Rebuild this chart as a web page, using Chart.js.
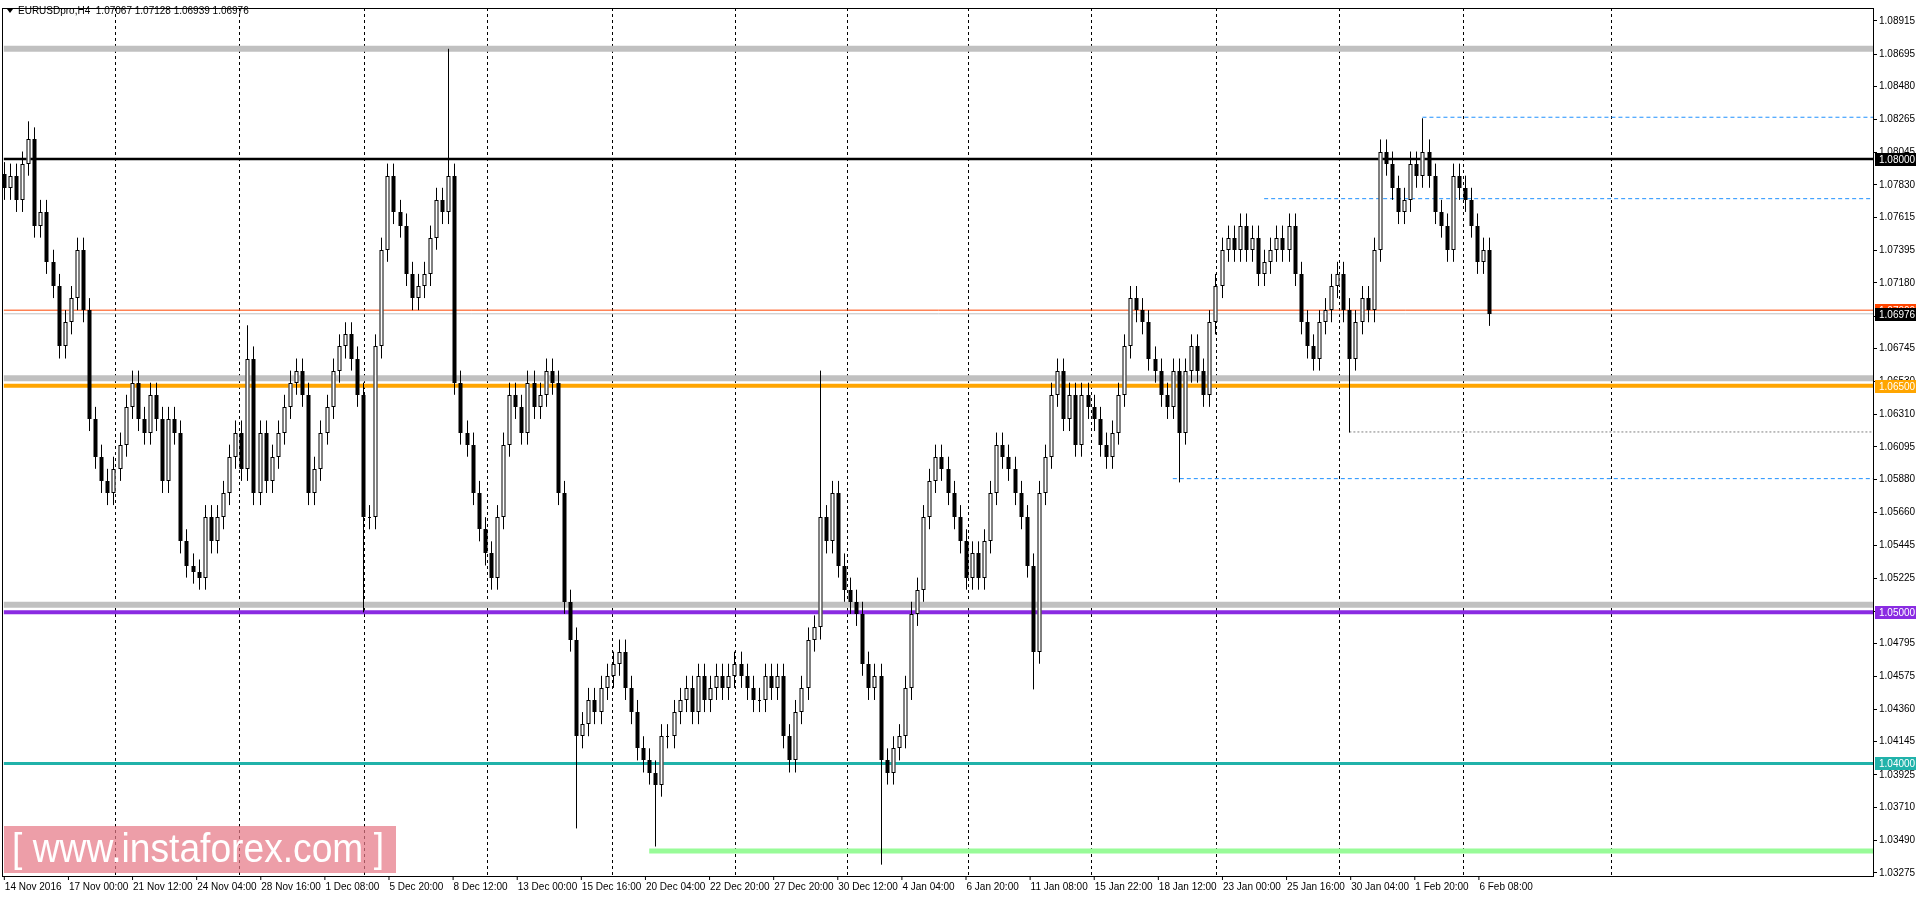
<!DOCTYPE html>
<html><head><meta charset="utf-8">
<script src="https://cdn.jsdelivr.net/npm/chart.js@4.4.1/dist/chart.umd.min.js"></script>
<style>html,body{margin:0;padding:0;background:#fff;overflow:hidden}#w{width:1916px;height:897px;position:relative}</style>
</head><body><div id="w"><canvas id="c" width="1916" height="897"></canvas></div>
<script>
const closes=[1.0781,1.0789,1.0773,1.0797,1.0813,1.0756,1.0765,1.0732,1.0716,1.0676,1.0692,1.0708,1.0740,1.0700,1.0628,1.0603,1.0587,1.0579,1.0595,1.0611,1.0636,1.0652,1.0628,1.0619,1.0644,1.0628,1.0587,1.0628,1.0619,1.0547,1.0531,1.0527,1.0523,1.0563,1.0547,1.0563,1.0579,1.0603,1.0619,1.0595,1.0668,1.0579,1.0619,1.0587,1.0603,1.0619,1.0636,1.0652,1.0660,1.0644,1.0579,1.0595,1.0619,1.0636,1.0660,1.0676,1.0684,1.0668,1.0644,1.0563,1.0563,1.0676,1.0740,1.0789,1.0765,1.0756,1.0724,1.0708,1.0716,1.0724,1.0748,1.0773,1.0765,1.0789,1.0652,1.0619,1.0611,1.0579,1.0555,1.0539,1.0523,1.0563,1.0611,1.0644,1.0636,1.0619,1.0652,1.0636,1.0644,1.0660,1.0652,1.0579,1.0507,1.0482,1.0418,1.0426,1.0442,1.0434,1.0450,1.0458,1.0466,1.0474,1.0450,1.0434,1.0410,1.0402,1.0394,1.0386,1.0418,1.0418,1.0434,1.0442,1.0450,1.0434,1.0458,1.0442,1.0450,1.0458,1.0450,1.0458,1.0466,1.0458,1.0450,1.0442,1.0442,1.0458,1.0450,1.0458,1.0418,1.0402,1.0434,1.0450,1.0482,1.0490,1.0563,1.0547,1.0579,1.0531,1.0515,1.0507,1.0499,1.0466,1.0450,1.0458,1.0402,1.0394,1.0410,1.0418,1.0450,1.0499,1.0515,1.0563,1.0587,1.0603,1.0595,1.0579,1.0563,1.0547,1.0523,1.0539,1.0523,1.0547,1.0579,1.0611,1.0603,1.0595,1.0579,1.0563,1.0531,1.0474,1.0579,1.0603,1.0644,1.0660,1.0628,1.0644,1.0611,1.0644,1.0636,1.0628,1.0611,1.0603,1.0619,1.0644,1.0676,1.0708,1.0700,1.0692,1.0668,1.0660,1.0644,1.0636,1.0660,1.0619,1.0660,1.0676,1.0660,1.0644,1.0692,1.0716,1.0740,1.0748,1.0740,1.0756,1.0740,1.0748,1.0724,1.0732,1.0740,1.0748,1.0740,1.0756,1.0724,1.0692,1.0676,1.0668,1.0692,1.0700,1.0716,1.0724,1.0700,1.0668,1.0692,1.0708,1.0700,1.0740,1.0805,1.0797,1.0781,1.0765,1.0773,1.0797,1.0789,1.0805,1.0789,1.0765,1.0756,1.0740,1.0789,1.0781,1.0773,1.0756,1.0732,1.0740,1.06976];
const firstOpen=1.0790;
const wick=0.0008;
const spikes=[[4,1.0825,null],[40,1.0690,null],[59,null,1.0500],[73,1.0873,null],[94,null,1.0357],[107,null,1.0345],[134,1.0660,null],[144,null,1.0333],[169,null,1.0449],[193,null,1.0586],[221,null,1.0619],[233,1.0827,null]];
const xLabels=["14 Nov 2016","17 Nov 00:00","21 Nov 12:00","24 Nov 04:00","28 Nov 16:00","1 Dec 08:00","5 Dec 20:00","8 Dec 12:00","13 Dec 00:00","15 Dec 16:00","20 Dec 04:00","22 Dec 20:00","27 Dec 20:00","30 Dec 12:00","4 Jan 04:00","6 Jan 20:00","11 Jan 08:00","15 Jan 22:00","18 Jan 12:00","23 Jan 00:00","25 Jan 16:00","30 Jan 04:00","1 Feb 20:00","6 Feb 08:00"];
const yTicks=[1.08915,1.08695,1.08480,1.08265,1.08045,1.07830,1.07615,1.07395,1.07180,1.06960,1.06745,1.06530,1.06310,1.06095,1.05880,1.05660,1.05445,1.05225,1.05005,1.04795,1.04575,1.04360,1.04145,1.03925,1.03710,1.03490,1.03275];
const gridBars=[18.3,38.6,59.2,79.4,99.9,120.1,138.5,158.4,178.6,199.1,219.3,239.7,264.0];
const labelStep=10.53, xMax=307;
const levels=[
 [1.0873,'#c0c0c0',6,0,null],
 [1.0655,'#c0c0c0',6,0,null],
 [1.0505,'#c0c0c0',6,0,null],
 [1.0800,'#000000',2.5,0,null],
 [1.0700,'#ff4500',1,0,null],
 [1.06976,'#c0c0c0',1,0,null],
 [1.0650,'#ffa500',4,0,null],
 [1.0500,'#8a2be2',4,0,null],
 [1.0400,'#20b2aa',3,0,null],
 [1.0342,'#98fb98',5,106,null],
 [1.08277,'#1e90ff',1,233,[4,3]],
 [1.07738,'#1e90ff',1,207,[4,3]],
 [1.06194,'#808080',1,221,[2,2]],
 [1.05885,'#1e90ff',1,192,[4,3]]
];
const badges=[[1.07000,'#ff4500','#fff'],[1.0800,'#000','#fff'],[1.06976,'#000','#fff'],[1.0650,'#ffa500','#fff'],[1.0500,'#8a2be2','#fff'],[1.0400,'#20b2aa','#fff']];

const FAM='"Liberation Sans", "DejaVu Sans", sans-serif';
const FONT='10px '+FAM;
const plug={id:'mt4',
 beforeDatasetsDraw(ch){
  const {ctx,chartArea:a,scales:{x,y}}=ch;
  ctx.save();
  ctx.beginPath();ctx.rect(a.left,a.top,a.right-a.left,a.bottom-a.top);ctx.clip();
  ctx.strokeStyle='#000';ctx.lineWidth=1;ctx.setLineDash([3,3]);
  for(const g of gridBars){const px=Math.round(x.getPixelForValue(g))+0.5;ctx.beginPath();ctx.moveTo(px,a.top);ctx.lineTo(px,a.bottom);ctx.stroke();}
  for(const L of levels){ctx.strokeStyle=L[1];ctx.lineWidth=L[2];ctx.setLineDash(L[4]||[]);const py=y.getPixelForValue(L[0]);const x0=x.getPixelForValue(L[3]);ctx.beginPath();ctx.moveTo(x0,py);ctx.lineTo(a.right,py);ctx.stroke();}
  ctx.setLineDash([]);
  let o=firstOpen;
  for(let i=0;i<closes.length;i++){
   const c=closes[i];let h=Math.max(o,c)+wick,l=Math.min(o,c)-wick;
   for(const s of spikes){if(s[0]===i){if(s[1]!==null)h=s[1];if(s[2]!==null)l=s[2];}}
   const px=Math.round(x.getPixelForValue(i))+0.5;
   ctx.strokeStyle='#000';ctx.lineWidth=1;
   ctx.beginPath();ctx.moveTo(px,y.getPixelForValue(h));ctx.lineTo(px,y.getPixelForValue(l));ctx.stroke();
   const t=Math.round(y.getPixelForValue(Math.max(o,c))),b=Math.max(Math.round(y.getPixelForValue(Math.min(o,c))),t+1);
   if(c>=o){ctx.fillStyle='#fff';ctx.fillRect(px-2,t,4,b-t);ctx.strokeRect(px-1.5,t+0.5,3,b-t-1);}
   else{ctx.fillStyle='#000';ctx.fillRect(px-2,t,4,b-t);}
   o=c;
  }
  ctx.restore();
 },
 afterDraw(ch){
  const {ctx,chartArea:a,scales:{x,y}}=ch;
  ctx.save();
  ctx.strokeStyle='#000';ctx.lineWidth=1;
  ctx.strokeRect(a.left+0.5,a.top+0.5,a.right-a.left,a.bottom-a.top);
  ctx.font=FONT;ctx.textBaseline='middle';
  for(const B of badges){const py=Math.round(y.getPixelForValue(B[0]));ctx.fillStyle=B[1];ctx.fillRect(a.right+2,py-6,41,13);ctx.fillStyle=B[2];ctx.textAlign='left';ctx.fillText(B[0].toFixed(5),a.right+6,py+1);}
  ctx.fillStyle='#000';ctx.textAlign='left';ctx.textBaseline='top';
  xLabels.forEach((s,k)=>{const px=x.getPixelForValue(k*labelStep);ctx.beginPath();ctx.moveTo(px+0.5,a.bottom);ctx.lineTo(px+0.5,a.bottom+4);ctx.stroke();ctx.fillText(s,px+1,a.bottom+6);});
  ctx.beginPath();ctx.moveTo(7,9);ctx.lineTo(13,9);ctx.lineTo(10,13);ctx.closePath();ctx.fill();
  ctx.textBaseline='middle';ctx.fillText('EURUSDpro,H4  1.07067 1.07128 1.06939 1.06976',18,11);
  ctx.fillStyle='rgba(230,120,135,0.72)';ctx.fillRect(4,826,392,47);
  ctx.fillStyle='#fff';ctx.font='40px "Liberation Sans", sans-serif';ctx.textBaseline='middle';
  ctx.fillText('[ www.instaforex.com ]',12,851,372);
  ctx.restore();
 }};
new Chart(document.getElementById('c'),{type:'scatter',data:{datasets:[{data:[]}]},
 options:{responsive:false,animation:false,events:[],layout:{padding:{left:2,top:2,right:0,bottom:0}},
  plugins:{legend:{display:false},tooltip:{enabled:false},title:{display:false}},
  scales:{
   x:{type:'linear',min:-0.3,max:xMax,display:true,grid:{display:false},border:{display:false},ticks:{display:false},afterFit(s){s.height=21;}},
   y:{type:'linear',position:'right',min:1.03255,max:1.09000,afterBuildTicks(s){s.ticks=yTicks.map(v=>({value:v}));},
      afterFit(s){s.width=43;},border:{display:false},
      grid:{drawOnChartArea:false,drawTicks:true,tickLength:4,color:'#000'},
      ticks:{padding:2,color:'#000',font:{family:FAM,size:10},callback:v=>v.toFixed(5)}}
  }},plugins:[plug]});
</script></body></html>
